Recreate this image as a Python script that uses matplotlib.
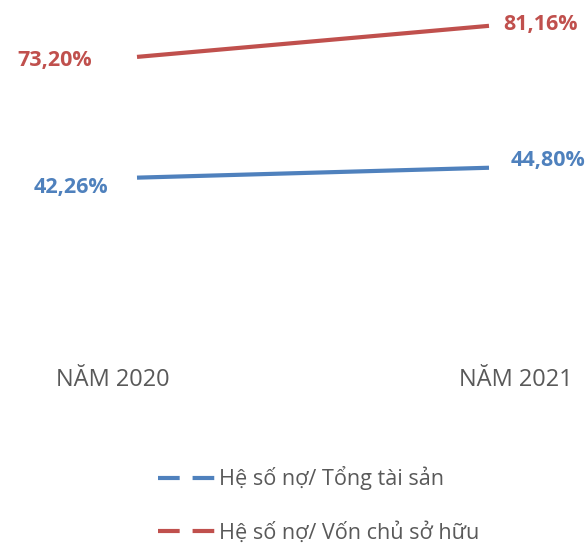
import matplotlib.pyplot as plt
import matplotlib.transforms as mtransforms
from matplotlib.lines import Line2D

plt.rcParams['font.family'] = ['Open Sans', 'DejaVu Sans']

nam = ['NĂM 2020', 'NĂM 2021']
no_tong_tai_san = [42.26, 44.80]   # Hệ số nợ / Tổng tài sản (%)
no_von_chu = [73.20, 81.16]        # Hệ số nợ / Vốn chủ sở hữu (%)
ten_chuoi = ['Hệ số nợ/ Tổng tài sản', 'Hệ số nợ/ Vốn chủ sở hữu']

xanh = '#4F81BD'
do = '#C0504D'

fig = plt.figure(figsize=(5.86, 5.44), dpi=100)
ax = fig.add_axes([0, 201.4 / 544, 1, 342.6 / 544])

x = list(range(len(nam)))
ax.plot(x, no_tong_tai_san, color=xanh, lw=3, solid_capstyle='butt')
ax.plot(x, no_von_chu, color=do, lw=3, solid_capstyle='butt')

def nhan(v):
    return f'{v:.2f}%'.replace('.', ',')

# nhãn giá trị: bên trái điểm đầu, bên phải điểm cuối
vi_tri = [
    (no_von_chu, do, (-82, -4), (51, 1)),
    (no_tong_tai_san, xanh, (-66, -10), (59, 7)),
]
for ys, mau, lech_dau, lech_cuoi in vi_tri:
    for i, lech in zip(x, [lech_dau, lech_cuoi]):
        ax.annotate(nhan(ys[i]), (i, ys[i]), xytext=lech,
                    textcoords='offset pixels', ha='center', va='center',
                    color=mau, fontsize=15.5, fontweight='bold')

ax.set_xlim(-137 / 352, 449 / 352)
ax.set_ylim(0, 342.6 / 3.903)
ax.set_xticks(x)
ax.set_xticklabels(nam, fontsize=17, color='#595959')
ax.tick_params(axis='x', length=0, pad=18)
# nhãn năm hơi lệch ra ngoài so với điểm dữ liệu
for lbl, dx in zip(ax.get_xticklabels(), [-24, 27]):
    lbl.set_transform(lbl.get_transform() +
                      mtransforms.ScaledTranslation(dx / 100, 0, fig.dpi_scale_trans))
ax.set_yticks([])
for s in ax.spines.values():
    s.set_visible(False)

handles = [Line2D([], [], color=xanh, lw=3, linestyle=(0, (5.2, 3.1))),
           Line2D([], [], color=do, lw=3, linestyle=(0, (5.2, 3.1)))]
fig.legend(handles, ten_chuoi, loc='center left', bbox_to_anchor=(0.236, 0.072),
           frameon=False, fontsize=15.6, labelcolor='#595959',
           handlelength=2.63, handletextpad=0.18, labelspacing=1.45)

fig.savefig('out.png', dpi=100)
